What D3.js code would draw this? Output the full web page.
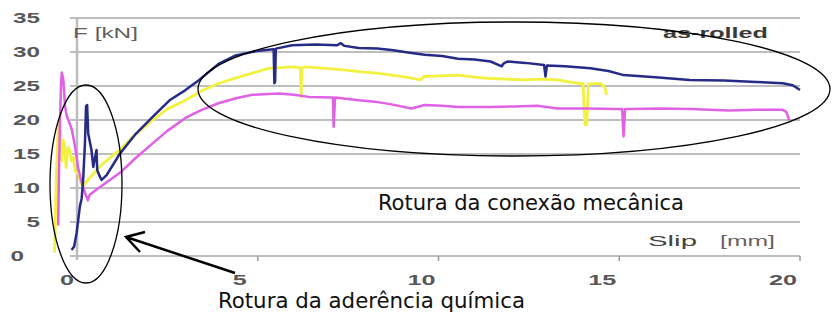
<!DOCTYPE html>
<html>
<head>
<meta charset="utf-8">
<script src="https://cdn.jsdelivr.net/npm/d3@7"></script>
<style>
    body { margin: 0; background: #fff; }
    svg { display: block; }
</style>
</head>
<body>
<script>
// Tick values
const yTicks = [0, 5, 10, 15, 20, 25, 30, 35];
const xTicks = [0, 5, 10, 15, 20];

// Series: slip [mm] / force [kN]
const blueSlip = [-0.15, -0.08, -0.01, 0.08, 0.13, 0.17, 0.22, 0.25, 0.28, 0.31, 0.40, 0.45, 0.54, 0.56, 0.63, 0.68, 0.82, 1.18, 1.6, 2.1, 2.56, 3.0, 3.38, 3.93, 4.39, 5.03, 5.44, 5.46, 5.48, 5.5, 5.95, 6.6, 7.2, 7.3, 7.4, 7.79, 8.3, 8.7, 9.2, 9.62, 10.1, 10.54, 11.0, 11.44, 11.75, 11.8, 11.9, 12.4, 12.92, 12.96, 13.0, 13.5, 14.2, 14.7, 15.12, 16.0, 16.95, 17.9, 18.79, 19.52, 19.8, 20.0];
const blueForce = [0.9, 1.4, 3.4, 7.3, 8.5, 11.2, 16.6, 22, 22.2, 18, 15.6, 13.1, 15.6, 12.6, 11.7, 11.2, 11.9, 15.0, 17.8, 20.5, 22.9, 24.4, 25.9, 28.3, 29.5, 30.2, 30.4, 25.4, 25.6, 30.5, 31.0, 31.1, 31.0, 31.3, 30.9, 30.6, 30.5, 30.3, 29.9, 29.6, 29.4, 29.0, 28.9, 28.6, 27.9, 28.3, 28.6, 28.4, 28.1, 26.4, 28.0, 27.9, 27.6, 27.2, 26.6, 26.3, 25.9, 25.8, 25.6, 25.4, 25.1, 24.4];

const yellowSlip = [-0.62, -0.6, -0.57, -0.52, -0.48, -0.45, -0.42, -0.38, -0.35, -0.3, -0.25, -0.2, -0.15, -0.1, -0.05, 0.05, 0.1, 0.17, 0.35, 0.7, 1.18, 1.6, 2.1, 2.5, 3.0, 3.45, 3.93, 4.4, 4.85, 5.3, 5.95, 6.18, 6.2, 6.22, 6.3, 6.87, 7.3, 7.79, 8.3, 8.7, 9.1, 9.5, 9.6, 10.0, 10.54, 11.0, 11.44, 11.9, 12.37, 12.8, 13.29, 13.6, 13.89, 14.0, 14.05, 14.1, 14.15, 14.25, 14.48, 14.6, 14.65];
const yellowForce = [0.5, 5, 12, 19, 19.5, 18, 14, 17, 16.5, 13, 16, 15.5, 14, 14.5, 12.5, 12, 10.8, 10.3, 11.5, 13.5, 15.6, 17.8, 20.0, 21.6, 22.9, 24.3, 25.4, 26.2, 26.9, 27.6, 27.8, 27.7, 23.4, 27.6, 27.8, 27.6, 27.4, 27.1, 26.9, 26.6, 26.3, 25.9, 26.4, 26.5, 26.6, 26.3, 26.1, 26.0, 25.9, 26.0, 25.9, 25.6, 25.4, 25.4, 19.3, 19.3, 25.3, 25.3, 25.4, 24.8, 23.7];

const pinkSlip = [-0.52, -0.5, -0.47, -0.44, -0.42, -0.38, -0.33, -0.28, -0.2, -0.14, -0.05, 0.03, 0.12, 0.22, 0.3, 0.35, 0.6, 1.18, 1.6, 2.1, 2.5, 3.0, 3.45, 3.93, 4.4, 4.85, 5.58, 6.0, 6.41, 7.08, 7.1, 7.14, 7.32, 7.8, 8.24, 8.7, 9.25, 9.62, 10.1, 10.54, 11.44, 12.1, 12.74, 13.29, 14.1, 14.94, 15.08, 15.12, 15.16, 15.3, 16.1, 16.95, 18.05, 18.8, 19.52, 19.62, 19.7];
const pinkForce = [4.5, 12, 20, 25.5, 27, 26, 22, 20.5, 19.5, 18.5, 16, 13, 11, 9.3, 8.2, 9.0, 10.0, 12.2, 14.3, 16.6, 18.4, 20.3, 21.5, 22.5, 23.2, 23.7, 23.9, 23.7, 23.4, 23.3, 19.0, 23.3, 23.2, 22.9, 22.7, 22.3, 21.7, 22.2, 22.1, 21.9, 21.9, 22.0, 22.1, 21.7, 21.7, 21.6, 21.6, 17.6, 21.6, 21.6, 21.7, 21.6, 21.4, 21.5, 21.5, 21.2, 20.0];

const width = 835,
    height = 313;

// Scales
const x = d3.scaleLinear().domain([0, 20]).range([77, 800]);
const y = d3.scaleLinear().domain([0, 35]).range([256, 18]);

let svg = d3
    .select('body')
    .append('svg')
    .attr('width', width)
    .attr('height', height)
    .style('font-family', 'Liberation Sans, Arial, sans-serif');

// Gridlines
svg.append('g')
    .selectAll('line')
    .data(yTicks)
    .enter()
    .append('line')
    .attr('x1', 70)
    .attr('x2', x(20))
    .attr('y1', d => y(d))
    .attr('y2', d => y(d))
    .attr('stroke', '#a8a8a8')
    .attr('stroke-width', 1.5);

// y axis line
svg.append('line')
    .attr('x1', x(0))
    .attr('x2', x(0))
    .attr('y1', y(35))
    .attr('y2', y(0) + 4)
    .attr('stroke', '#bcbcbc')
    .attr('stroke-width', 2.5);

// x axis ticks
svg.append('g')
    .selectAll('line')
    .data(xTicks.slice(1))
    .enter()
    .append('line')
    .attr('x1', d => x(d))
    .attr('x2', d => x(d))
    .attr('y1', y(0))
    .attr('y2', y(0) + 5)
    .attr('stroke', '#999')
    .attr('stroke-width', 1.5);

// Tick labels (stretched wide like the scanned chart)
svg.append('g')
    .selectAll('text')
    .data(yTicks)
    .enter()
    .append('text')
    .attr('x', d => (d === 0 ? 24 : 40))
    .attr('y', d => y(d))
    .attr('dy', '0.36em')
    .attr('text-anchor', 'end')
    .attr('font-size', 14)
    .attr('font-weight', 'bold')
    .attr('fill', '#585858')
    .attr('textLength', d => String(d).length * 13.5)
    .attr('lengthAdjust', 'spacingAndGlyphs')
    .text(d => d);

svg.append('g')
    .selectAll('text')
    .data(xTicks)
    .enter()
    .append('text')
    .attr('x', d => x(d) - (d === 5 ? 11 : 3))
    .attr('y', 285)
    .attr('text-anchor', 'end')
    .attr('font-size', 14)
    .attr('font-weight', 'bold')
    .attr('fill', '#585858')
    .attr('textLength', d => String(d).length * 14)
    .attr('lengthAdjust', 'spacingAndGlyphs')
    .text(d => d);

// Axis titles
svg.append('text')
    .attr('x', 73)
    .attr('y', 38)
    .attr('font-size', 14)
    .attr('fill', '#606060')
    .attr('textLength', 65)
    .attr('lengthAdjust', 'spacingAndGlyphs')
    .text('F [kN]');

svg.append('text')
    .attr('x', 663)
    .attr('y', 38)
    .attr('font-size', 14)
    .attr('font-weight', 'bold')
    .attr('fill', '#3a3a3a')
    .attr('textLength', 105)
    .attr('lengthAdjust', 'spacingAndGlyphs')
    .text('as-rolled');

svg.append('text')
    .attr('x', 648)
    .attr('y', 246)
    .attr('font-size', 14)
    .attr('fill', '#444')
    .attr('textLength', 49)
    .attr('lengthAdjust', 'spacingAndGlyphs')
    .text('Slip');

svg.append('text')
    .attr('x', 720)
    .attr('y', 246)
    .attr('font-size', 14)
    .attr('fill', '#6a6060')
    .attr('textLength', 55)
    .attr('lengthAdjust', 'spacingAndGlyphs')
    .text('[mm]');

// Curves
const series = [
    { slip: yellowSlip, force: yellowForce, color: '#f3f140', w: 2.8 },
    { slip: pinkSlip, force: pinkForce, color: '#e060e6', w: 2.5 },
    { slip: blueSlip, force: blueForce, color: '#262b88', w: 2.5 }
];

const line = d3
    .line()
    .x(d => x(d[0]))
    .y(d => y(d[1]));

svg.append('g')
    .selectAll('path')
    .data(series)
    .enter()
    .append('path')
    .attr('d', s => line(d3.zip(s.slip, s.force)))
    .attr('fill', 'none')
    .attr('stroke', s => s.color)
    .attr('stroke-width', s => s.w)
    .attr('stroke-linejoin', 'round');

// Annotations
svg.append('ellipse')
    .attr('cx', 86)
    .attr('cy', 184)
    .attr('rx', 36)
    .attr('ry', 99)
    .attr('fill', 'none')
    .attr('stroke', '#000')
    .attr('stroke-width', 1.3);

svg.append('ellipse')
    .attr('cx', 514)
    .attr('cy', 89)
    .attr('rx', 316)
    .attr('ry', 67)
    .attr('fill', 'none')
    .attr('stroke', '#000')
    .attr('stroke-width', 1.3);

svg.append('path')
    .attr('d', 'M235,273 L126,237 M145,232 L126,237 L140,252')
    .attr('fill', 'none')
    .attr('stroke', '#000')
    .attr('stroke-width', 2.5);

svg.append('text')
    .attr('x', 378)
    .attr('y', 210)
    .attr('font-family', 'DejaVu Sans Condensed, DejaVu Sans, sans-serif')
    .attr('font-size', 21)
    .attr('fill', '#111')
    .attr('textLength', 306)
    .attr('lengthAdjust', 'spacingAndGlyphs')
    .text('Rotura da conexão mecânica');

svg.append('text')
    .attr('x', 218)
    .attr('y', 308)
    .attr('font-family', 'DejaVu Sans Condensed, DejaVu Sans, sans-serif')
    .attr('font-size', 21)
    .attr('fill', '#111')
    .attr('textLength', 307)
    .attr('lengthAdjust', 'spacingAndGlyphs')
    .text('Rotura da aderência química');
</script>
</body>
</html>
